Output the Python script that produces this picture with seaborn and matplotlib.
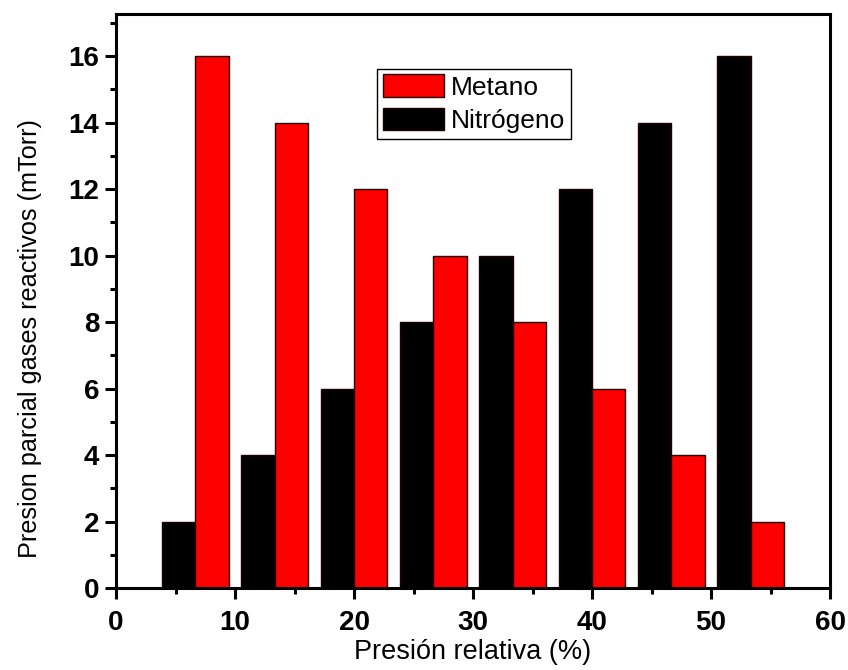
import matplotlib
matplotlib.use("Agg")
import matplotlib.pyplot as plt
import seaborn as sns
import pandas as pd
import numpy as np
from matplotlib.ticker import MultipleLocator

# Data
presion_relativa = [20/3, 40/3, 20, 80/3, 100/3, 40, 140/3, 160/3]
metano = [16, 14, 12, 10, 8, 6, 4, 2]
nitrogeno = [2, 4, 6, 8, 10, 12, 14, 16]
series_names = ["Nitrógeno", "Metano"]

df = pd.DataFrame({
    "x": presion_relativa * 2,
    "y": nitrogeno + metano,
    "gas": [series_names[0]] * len(nitrogeno) + [series_names[1]] * len(metano),
})

sns.set_theme(style="ticks")
plt.rcParams["font.family"] = ["Liberation Sans", "DejaVu Sans"]
plt.rcParams["text.color"] = "black"
plt.rcParams["axes.labelcolor"] = "black"
plt.rcParams["xtick.color"] = "black"
plt.rcParams["ytick.color"] = "black"

fig = plt.figure(figsize=(8.48, 6.7), dpi=100)
ax = fig.add_axes([116/848, 1-588/670, (830-116)/848, (588-13.5)/670])

sns.barplot(data=df, x="x", y="y", hue="gas", hue_order=series_names,
            palette={"Nitrógeno": "#000000", "Metano": "#ff0000"},
            saturation=1, native_scale=True, width=0.84, dodge=True, gap=0,
            edgecolor="#200000", linewidth=1.0, ax=ax, errorbar=None)

ax.set_xlim(0, 60)
ax.set_ylim(0, 17.28)
ax.xaxis.set_major_locator(MultipleLocator(10))
ax.xaxis.set_minor_locator(MultipleLocator(5))
ax.yaxis.set_major_locator(MultipleLocator(2))
ax.yaxis.set_minor_locator(MultipleLocator(1))

for s in ax.spines.values():
    s.set_visible(True)
    s.set_linewidth(2.2)
    s.set_color("black")

ax.tick_params(axis="both", which="major", direction="out", length=8, width=2.2,
               labelsize=20, color="black", labelcolor="black")
ax.tick_params(axis="both", which="minor", direction="out", length=4.5, width=2.2, color="black")
ax.tick_params(axis="x", which="major", pad=8)
ax.tick_params(axis="y", which="major", pad=4)
for lab in ax.get_xticklabels() + ax.get_yticklabels():
    lab.set_fontweight("bold")

ax.set_xlabel("Presión relativa (%)", fontsize=19.5, color="black")
ax.set_ylabel("Presion parcial gases reactivos (mTorr)", fontsize=18.2, color="black")
ax.xaxis.set_label_coords(0.5, -0.088)
ax.yaxis.set_label_coords(-0.103, 0.435)

handles, labels = ax.get_legend_handles_labels()
order = [labels.index("Metano"), labels.index("Nitrógeno")]
leg = ax.legend([handles[i] for i in order], [labels[i] for i in order],
                loc="upper left", bbox_to_anchor=(0.366, 0.904), fontsize=19,
                frameon=True, fancybox=False, edgecolor="black", framealpha=1,
                handlelength=2.31, handleheight=0.91, borderpad=0.22,
                labelspacing=0.32, handletextpad=0.27, borderaxespad=0)
leg.get_frame().set_linewidth(1.0)
for t in leg.get_texts():
    t.set_color("black")

fig.savefig("out.png", dpi=100)
